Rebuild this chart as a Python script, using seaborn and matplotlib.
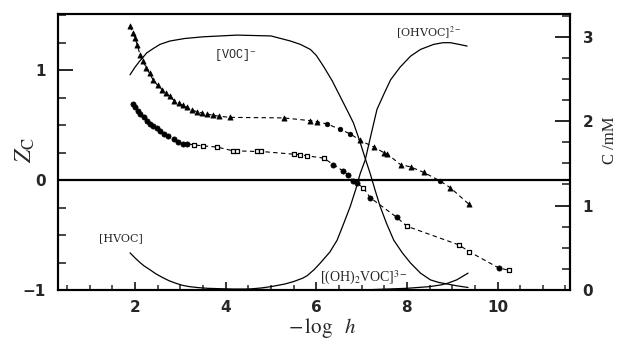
import matplotlib
matplotlib.use("Agg")
import matplotlib.pyplot as plt
import seaborn as sns
import pandas as pd
from matplotlib.ticker import MultipleLocator, FixedLocator

# ---------------- data ----------------
# upper Z_C series (filled triangles)
up_tri_x = [1.89, 1.95, 2.0, 2.05, 2.11, 2.18, 2.25, 2.32, 2.4, 2.5, 2.6, 2.68, 2.77, 2.87,
            2.96, 3.05, 3.14, 3.25, 3.37, 3.47, 3.58, 3.72, 3.85, 4.1, 5.28, 5.87, 6.02,
            6.97, 7.27, 7.49, 7.56, 7.86, 8.08, 8.37, 8.96, 9.37]
up_tri_z = [1.40, 1.34, 1.29, 1.23, 1.14, 1.08, 1.02, 0.97, 0.91, 0.86, 0.82, 0.79, 0.76, 0.72,
            0.70, 0.68, 0.66, 0.64, 0.62, 0.61, 0.60, 0.59, 0.58, 0.57, 0.565, 0.54, 0.53,
            0.36, 0.30, 0.25, 0.24, 0.14, 0.12, 0.07, -0.07, -0.22]
# upper Z_C series (filled circles)
up_dot_x = [6.24, 6.53, 6.75, 8.74]
up_dot_z = [0.51, 0.46, 0.42, -0.01]

# lower Z_C series (filled circles)
lo_dot_x = [1.96, 2.0, 2.06, 2.12, 2.19, 2.26, 2.33, 2.4, 2.48, 2.55, 2.63, 2.72, 2.85, 2.95,
            3.06, 3.14, 6.38, 6.6, 6.7, 6.82, 6.9, 7.19, 7.78, 10.03]
lo_dot_z = [0.69, 0.66, 0.63, 0.60, 0.57, 0.54, 0.51, 0.49, 0.47, 0.45, 0.42, 0.40, 0.37, 0.35,
            0.33, 0.33, 0.14, 0.08, 0.05, -0.01, -0.03, -0.16, -0.34, -0.80]
# lower Z_C series (open squares)
lo_open_x = [3.3, 3.51, 3.81, 4.17, 4.25, 4.69, 4.78, 5.5, 5.65, 5.79, 6.16, 7.04, 8.0,
             9.15, 9.37, 10.25]
lo_open_z = [0.32, 0.31, 0.30, 0.265, 0.265, 0.26, 0.26, 0.235, 0.23, 0.22, 0.20, -0.07, -0.42,
             -0.59, -0.65, -0.82]

# species distribution curves (C / mM, right axis)
hvoc_x = [1.89, 2.0, 2.1, 2.2, 2.33, 2.45, 2.6, 2.75, 2.9, 3.05, 3.2, 3.4, 3.6, 4.2, 5.0]
hvoc_c = [0.44, 0.38, 0.33, 0.285, 0.24, 0.195, 0.15, 0.11, 0.08, 0.055, 0.04, 0.028, 0.02,
          0.01, 0.005]

voc_x = [1.89, 2.0, 2.1, 2.26, 2.4, 2.55, 2.77, 3.1, 3.51, 4.25, 5.0, 5.43, 5.65, 5.87, 6.0,
         6.16, 6.35, 6.53, 6.7, 6.82, 6.95, 7.08, 7.19, 7.3, 7.41, 7.55, 7.71, 7.9, 8.08,
         8.3, 8.52, 8.7, 8.9, 9.1, 9.35]
voc_c = [2.55, 2.64, 2.71, 2.81, 2.86, 2.91, 2.95, 2.98, 3.0, 3.02, 3.01, 2.95, 2.91, 2.85,
         2.78, 2.65, 2.48, 2.29, 2.11, 1.98, 1.78, 1.56, 1.38, 1.18, 0.99, 0.79, 0.59, 0.44,
         0.32, 0.2, 0.12, 0.09, 0.07, 0.05, 0.03]

ohvoc_x = [3.5, 4.0, 4.5, 4.8, 5.0, 5.3, 5.5, 5.7, 5.8, 5.95, 6.09, 6.3, 6.46, 6.6, 6.75,
           6.87, 6.97, 7.08, 7.2, 7.34, 7.5, 7.64, 7.85, 8.08, 8.3, 8.59, 8.8, 8.96, 9.15,
           9.33]
ohvoc_c = [0.0, 0.005, 0.01, 0.025, 0.04, 0.07, 0.10, 0.14, 0.17, 0.24, 0.32, 0.45, 0.59,
           0.78, 0.99, 1.19, 1.38, 1.54, 1.82, 2.14, 2.33, 2.49, 2.64, 2.77, 2.85, 2.91, 2.93,
           2.93, 2.91, 2.89]

oh2voc_x = [7.0, 7.5, 8.0, 8.5, 8.75, 8.9, 9.1, 9.35]
oh2voc_c = [0.0, 0.01, 0.02, 0.04, 0.06, 0.08, 0.12, 0.2]

x_ticks = [2, 4, 6, 8, 10]
z_ticks = [-1, 0, 1]
c_ticks = [0, 1, 2, 3]

# ---------------- figure ----------------
sns.set_style("white")
plt.rcParams["mathtext.fontset"] = "stix"
plt.rcParams["font.family"] = ["DejaVu Sans"]

W, H = 623, 345
fig = plt.figure(figsize=(W / 100, H / 100), dpi=100)
ax = fig.add_axes([58 / W, 1 - 290 / H, 512 / W, 276 / H])

# zero line
ax.axhline(0, color="black", lw=1.6, zorder=1)

# dashed fits through the data
up_all = pd.DataFrame({"x": up_tri_x + up_dot_x, "z": up_tri_z + up_dot_z}).sort_values("x")
lo_all = pd.DataFrame({"x": lo_dot_x + lo_open_x, "z": lo_dot_z + lo_open_z}).sort_values("x")
sns.lineplot(data=up_all, x="x", y="z", ax=ax, color="black", lw=0.8,
             linestyle=(0, (4, 3)), estimator=None, sort=True)
sns.lineplot(data=lo_all, x="x", y="z", ax=ax, color="black", lw=0.8,
             linestyle=(0, (4, 3)), estimator=None, sort=True)

sns.scatterplot(x=up_tri_x, y=up_tri_z, ax=ax, marker="^", s=14, color="black",
                edgecolor="black", linewidth=0.5, zorder=3)
sns.scatterplot(x=up_dot_x, y=up_dot_z, ax=ax, marker="o", s=11, color="black",
                edgecolor="black", linewidth=0.5, zorder=3)
sns.scatterplot(x=lo_dot_x, y=lo_dot_z, ax=ax, marker="o", s=14, color="black",
                edgecolor="black", linewidth=0.5, zorder=3)
sns.scatterplot(x=lo_open_x, y=lo_open_z, ax=ax, marker="s", s=10, facecolor="white",
                edgecolor="black", linewidth=0.9, zorder=3)

ax.set_xlim(0.3, 11.6)
ax.set_ylim(-1, 1.51)

# right axis with species curves
ax2 = ax.twinx()
for xs, cs in [(hvoc_x, hvoc_c), (voc_x, voc_c), (ohvoc_x, ohvoc_c), (oh2voc_x, oh2voc_c)]:
    sns.lineplot(x=xs, y=cs, ax=ax2, color="black", lw=0.9, estimator=None, sort=False)
ax2.set_ylim(0, 3.27)
ax2.set_xlim(0.3, 11.6)

# ticks
tick_font = dict(fontsize=11, fontweight="bold")
ax.xaxis.set_major_locator(FixedLocator(x_ticks))
ax.xaxis.set_minor_locator(MultipleLocator(0.5))
ax.yaxis.set_major_locator(FixedLocator(z_ticks))
ax.yaxis.set_minor_locator(MultipleLocator(0.25))
ax2.yaxis.set_major_locator(FixedLocator(c_ticks))
ax2.yaxis.set_minor_locator(MultipleLocator(0.25))

ax.set_xticks(x_ticks)
ax.set_xticklabels([str(t) for t in x_ticks], **tick_font)
ax.set_yticks(z_ticks)
ax.set_yticklabels(["\u22121", "0", "1"], **tick_font)
ax2.set_yticks(c_ticks)
ax2.set_yticklabels([str(t) for t in c_ticks], **tick_font)

ax.tick_params(axis="x", which="major", direction="in", length=6, width=1.3, pad=7,
               bottom=True, top=False)
ax.tick_params(axis="x", which="minor", direction="in", length=3.5, width=1.1,
               bottom=True, top=False)
ax.tick_params(axis="y", which="major", direction="in", length=11, width=1.4, pad=9,
               left=True, right=False)
ax.tick_params(axis="y", which="minor", direction="in", length=6, width=1.2,
               left=True, right=False)
ax2.tick_params(axis="y", which="major", direction="in", length=11, width=1.4, pad=9,
                right=True, left=False)
ax2.tick_params(axis="y", which="minor", direction="in", length=6, width=1.2,
                right=True, left=False)

for a in (ax, ax2):
    for s in a.spines.values():
        s.set_linewidth(1.5)
        s.set_color("black")

ax.set_xlabel("")
ax.set_ylabel("")
ax2.set_ylabel("")

# axis titles
fig.text(25 / W, 1 - 150 / H, r"$Z_{\mathrm{C}}$", rotation=90, fontsize=17,
         ha="center", va="center")
fig.text(610 / W, 1 - 140 / H, "C /mM", rotation=90, fontsize=12,
         family="Liberation Serif", ha="center", va="center")
fig.text(322 / W, 1 - 328 / H, r"$-\,\log\ \ h$", fontsize=15, ha="center", va="center")

# species labels
ax.text(4.21, 1.14, "[VOC]$^{-}$", fontsize=8.5, family="Liberation Mono",
        ha="center", va="center")
ax.text(8.47, 1.34, "[OHVOC]$^{2-}$", fontsize=8, family="DejaVu Serif",
        ha="center", va="center")
ax.text(1.69, -0.53, "[HVOC]", fontsize=8, family="DejaVu Serif",
        ha="center", va="center")
ax.text(7.06, -0.89, "[(OH)$_2$VOC]$^{3-}$", fontsize=10, family="Liberation Serif",
        ha="center", va="center")

fig.savefig("out.png", dpi=100)
